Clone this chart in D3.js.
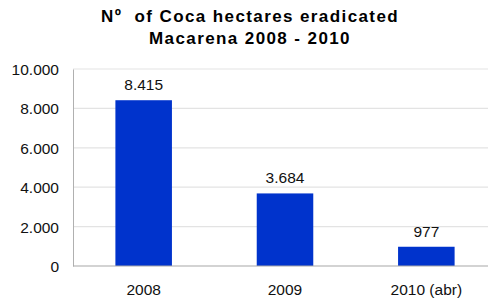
<!DOCTYPE html>
<html><head><meta charset="utf-8">
<script src="https://cdn.jsdelivr.net/npm/d3@7"></script>
<style>body{margin:0;background:#fff}svg{display:block}text{font-family:"Liberation Sans",Arial,sans-serif}</style>
</head><body><svg id="c" width="488" height="298"></svg>
<script>
const categories = ["2008", "2009", "2010 (abr)"];
const values = [8415, 3684, 977];
const yTicks = [0, 2000, 4000, 6000, 8000, 10000];
const titleLines = ["Nº  of Coca hectares eradicated", "Macarena 2008 - 2010"];

const fmt = v => d3.format(",")(v).replace(/,/g, ".");
const svg = d3.select("#c");
const x = d3.scaleBand().domain(categories).range([73, 497]).paddingInner(0.6).paddingOuter(0.3);
const y = d3.scaleLinear().domain([0, 10000]).range([266, 69]);

// gridlines
svg.append("g").selectAll("line").data(yTicks.filter(d => d > 0)).join("line")
  .attr("x1", 73).attr("x2", 488).attr("y1", d => y(d)).attr("y2", d => y(d))
  .attr("stroke", "#e3e3e3").attr("stroke-width", 1.2);

// y axis
const ya = svg.append("g").attr("transform", "translate(73,0)")
  .call(d3.axisLeft(y).tickValues(yTicks).tickFormat(fmt).tickSize(0).tickPadding(14));
ya.select(".domain").attr("stroke", "#b0b0b0");
ya.selectAll("text").attr("font-size", 15.5).attr("fill", "#111").attr("dy", "0.35em");

// bars
svg.append("g").selectAll("rect").data(values).join("rect")
  .attr("x", (d, i) => x(categories[i])).attr("width", x.bandwidth())
  .attr("y", d => y(d)).attr("height", d => y(0) - y(d))
  .attr("fill", "#0033cc");

// baseline
svg.append("line").attr("x1", 73).attr("x2", 488).attr("y1", y(0)).attr("y2", y(0))
  .attr("stroke", "#a8a8a8").attr("stroke-width", 1.2);

// x labels
svg.append("g").selectAll("text").data(categories).join("text")
  .attr("x", d => x(d) + x.bandwidth() / 2).attr("y", 295)
  .attr("text-anchor", "middle").attr("font-size", 15.5).attr("fill", "#111").text(d => d);

// value labels
svg.append("g").selectAll("text").data(values).join("text")
  .attr("x", (d, i) => x(categories[i]) + x.bandwidth() / 2).attr("y", d => y(d) - 10)
  .attr("text-anchor", "middle").attr("font-size", 15.5).attr("fill", "#111").text(fmt);

// title
svg.append("g").selectAll("text").data(titleLines).join("text")
  .attr("x", 250).attr("y", (d, i) => 22 + i * 22)
  .attr("text-anchor", "middle").attr("font-size", 17).attr("font-weight", "bold")
  .attr("letter-spacing", 1.4)
  .attr("fill", "#000").attr("xml:space", "preserve").style("white-space", "pre").text(d => d);
</script></body></html>
